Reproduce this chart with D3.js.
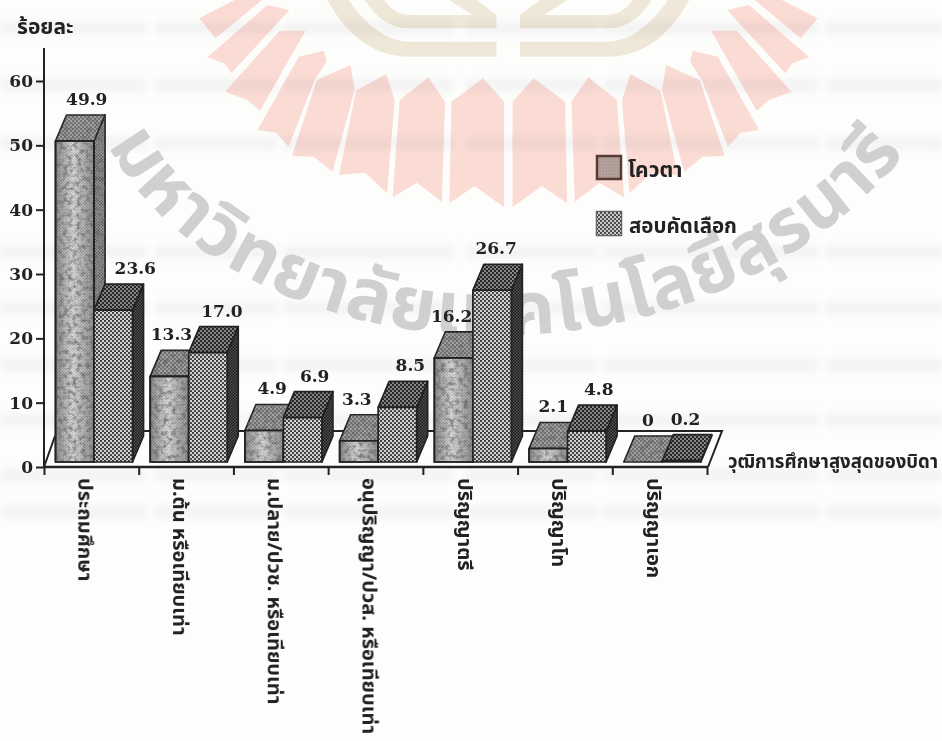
<!DOCTYPE html>
<html lang="th"><head><meta charset="utf-8">
<script src="https://cdn.jsdelivr.net/npm/d3@7"></script>
<style>html,body{margin:0;padding:0;background:#fdfdfc}svg{display:block}</style></head>
<body><svg id="c" width="942" height="741"></svg>
<script>
const categories = ["ประถมศึกษา","ม.ต้น หรือเทียบเท่า","ม.ปลาย/ปวช. หรือเทียบเท่า","อนุปริญญา/ปวส. หรือเทียบเท่า","ปริญญาตรี","ปริญญาโท","ปริญญาเอก"];
const seriesNames = ["โควตา","สอบคัดเลือก"];
const quotaValues = [49.9,13.3,4.9,3.3,16.2,2.1,0];
const examValues = [23.6,17.0,6.9,8.5,26.7,4.8,0.2];
const yTicks = [0,10,20,30,40,50,60];
const quotaLabels = ["49.9","13.3","4.9","3.3","16.2","2.1","0"];
const examLabels = ["23.6","17.0","6.9","8.5","26.7","4.8","0.2"];
const yTitle = "ร้อยละ";
const xTitle = "วุฒิการศึกษาสูงสุดของบิดา";
const watermark = "มหาวิทยาลัยเทคโนโลยีสุรนารี";

const thai = '"Noto Sans Thai","Noto Serif Thai","Noto Sans","DejaVu Sans",sans-serif';
const serif = '"DejaVu Serif","Liberation Serif",serif';
const svg = d3.select("#c");
const defs = svg.append("defs");

function dots(id, bg, fg, size, r){
  const p = defs.append("pattern").attr("id",id).attr("width",size).attr("height",size).attr("patternUnits","userSpaceOnUse");
  p.append("rect").attr("width",size).attr("height",size).attr("fill",bg);
  p.append("circle").attr("cx",size/4).attr("cy",size/4).attr("r",r).attr("fill",fg);
  p.append("circle").attr("cx",size*3/4).attr("cy",size*3/4).attr("r",r).attr("fill",fg);
}
dots("q-top","#a4a4a2","#5c5c5c",4,0.9);
dots("q-side","#9a9a9a","#505050",3,0.7);
dots("e-front","#d2d2d0","#333333",4,1.1);
dots("e-top","#8a8a8a","#222222",4,1.15);
dots("e-side","#555555","#1a1a1a",3,0.9);
dots("q-spk","rgba(0,0,0,0)","rgba(25,25,25,.32)",3,0.6);
dots("l-hatch","#c9c9c9","#3e3e3e",4,1.1);
const g1 = defs.append("linearGradient").attr("id","q-grad");
[[0,"#8f8f8f"],[.45,"#dcdcda"],[1,"#929292"]].forEach(s=>g1.append("stop").attr("offset",s[0]).attr("stop-color",s[1]));
const f = defs.append("filter").attr("id","soft").attr("x",0).attr("y",0).attr("width",1).attr("height",1);
f.append("feGaussianBlur").attr("stdDeviation",0.45);
const f2 = defs.append("filter").attr("id","ghost").attr("filterUnits","userSpaceOnUse").attr("x",0).attr("y",0).attr("width",942).attr("height",741);
f2.append("feGaussianBlur").attr("stdDeviation",3.2);
const m = defs.append("filter").attr("id","mottle").attr("x",0).attr("y",0).attr("width",1).attr("height",1);
m.append("feTurbulence").attr("type","fractalNoise").attr("baseFrequency",.22).attr("numOctaves",3).attr("seed",7).attr("result","n");
m.append("feColorMatrix").attr("in","n").attr("type","matrix").attr("values","0 0 0 0 .12  0 0 0 0 .12  0 0 0 0 .12  2 0 0 0 -.85").attr("result","c");
m.append("feComposite").attr("in","c").attr("in2","SourceAlpha").attr("operator","in");

// watermark rays + emblem
const bg = svg.append("g");
const wx = x => 180 + x/2.376, wy = y => y/3, mirror = x => 1560 - x;
const rays = [
 [[645,305],[720,235],[770,305],[770,622],[700,558],[640,610]],
 [[522,300],[590,232],[630,305],[622,605],[563,548],[505,592]],
 [[418,272],[490,222],[510,300],[492,580],[440,518],[378,525]],
 [[325,240],[405,195],[415,270],[362,515],[318,470],[266,468]],
 [[282,170],[342,152],[348,185],[320,240],[258,440],[228,398],[184,390]],
 [[237,92],[298,92],[190,332],[160,300],[107,275]],
 [[208,15],[260,30],[122,220],[105,190],[65,172]],
 [[45,55],[130,0],[195,0],[85,115]]
];
[false,true].forEach(mm=>rays.forEach(r=>{
  bg.append("polygon").attr("fill","#fbdcd5")
    .attr("points",r.map(p=>[wx(mm?mirror(p[0]):p[0]),wy(p[1])].join(",")).join(" "));
}));
const band = (mm)=>{const X=x=>wx(mm?mirror(x):x),Y=wy;
 return [
 `M${X(350)},0Q${X(425)},${Y(170)} ${X(545)},${Y(170)}L${X(752)},${Y(170)}L${X(752)},${Y(125)}L${X(545)},${Y(125)}Q${X(470)},${Y(125)} ${X(400)},0Z`,
 `M${X(440)},0Q${X(480)},${Y(85)} ${X(545)},${Y(85)}L${X(752)},${Y(85)}L${X(752)},${Y(45)}L${X(705)},0L${X(640)},0L${X(695)},${Y(45)}L${X(545)},${Y(45)}Q${X(510)},${Y(45)} ${X(485)},0Z`];};
[false,true].forEach(mm=>band(mm).forEach(d=>bg.append("path").attr("d",d).attr("fill","#efe7d8")));

// faint show-through from the reverse of the scanned page
const ghostRows = [28,85,143,252,308,365,420,475,512];
bg.selectAll("line.g").data(ghostRows).join("line").attr("class","g")
  .attr("x1",0).attr("x2",942).attr("y1",d=>d).attr("y2",d=>d)
  .attr("stroke","#e8e8ec").attr("stroke-width",13).attr("opacity",.42)
  .attr("stroke-dasharray","146 9 122 7 170 12 131 6 215 8")
  .attr("style","mix-blend-mode:multiply").attr("filter","url(#ghost)");

// curved grey watermark text
defs.append("path").attr("id","arc").attr("d","M108,145C230,375 690,420 908,150");
bg.append("text").attr("font-family",thai).attr("font-size",74).attr("font-weight",700).attr("fill","#d0d0d0")
  .append("textPath").attr("href","#arc").attr("startOffset","0%").attr("textLength",915).attr("lengthAdjust","spacing").text(watermark);

// chart
const g = svg.append("g").attr("filter","url(#soft)");
const y = d3.scaleLinear().domain([0,60]).range([467,81]);
const x = d3.scaleBand().domain(categories).range([44,707]);
const xs = d3.scaleBand().domain(seriesNames).range([11.5,88.5]);
const baseY = 462, dx = 11, dy = -26;
const ink = "#222";

// floor
g.append("path").attr("fill","none").attr("stroke",ink).attr("stroke-width",2)
 .attr("d",`M44,${y(0)}L55,436M100,431H722L708,${y(0)}`);

// axes
const yAxis = d3.axisLeft(y).tickValues(yTicks).tickSize(8).tickPadding(3).tickFormat(d3.format("d"));
const ya = g.append("g").attr("transform","translate(44,0)").call(yAxis);
ya.select(".domain").attr("d",`M0,${y(0)}V48`).attr("stroke",ink).attr("stroke-width",2);
ya.selectAll(".tick line").attr("stroke",ink).attr("stroke-width",2);
ya.selectAll("text").attr("font-family",serif).attr("font-weight",700).attr("font-size",17).attr("fill",ink);
const edges = d3.scaleLinear().domain([0,categories.length]).range(x.range());
const xa = g.append("g").attr("transform",`translate(0,${y(0)})`).call(d3.axisBottom(edges).ticks(7).tickSize(8).tickFormat(""));
xa.selectAll(".tick text").remove();
xa.select(".domain").attr("d",`M44,0H708`).attr("stroke",ink).attr("stroke-width",2.4);
xa.selectAll(".tick line").attr("stroke",ink).attr("stroke-width",2);

// bars
const rows = categories.map((c,i)=>({c,i,q:quotaValues[i],e:examValues[i]}));
function bar(sel,X,W,v,kind){
  const h = y(0)-y(v), T = baseY-h, R = X+W, t = sel.append("g").attr("stroke",ink).attr("stroke-width",1.7).attr("stroke-linejoin","round");
  const side = `M${R},${T}L${R+dx},${T+dy}V${baseY+dy}L${R},${baseY}Z`, top = `M${X},${T}L${X+dx},${T+dy}H${R+dx}L${R},${T}Z`;
  t.append("path").attr("d",side).attr("fill",`url(#${kind}-side)`);
  t.append("path").attr("d",top).attr("fill",`url(#${kind}-top)`);
  if(kind==="q"){
    t.append("path").attr("d",top).attr("fill","#000").attr("stroke","none").attr("filter","url(#mottle)");
    t.append("path").attr("d",side).attr("fill","#000").attr("stroke","none").attr("filter","url(#mottle)");
  }
  if(h>0){
    if(kind==="q"){
      t.append("rect").attr("x",X).attr("y",T).attr("width",W).attr("height",h).attr("fill","url(#q-grad)");
      t.append("rect").attr("x",X).attr("y",T).attr("width",W).attr("height",h).attr("fill","url(#q-spk)").attr("stroke","none");
      t.append("rect").attr("x",X).attr("y",T).attr("width",W).attr("height",h).attr("fill","#000").attr("stroke","none").attr("filter","url(#mottle)");
      t.append("rect").attr("x",X).attr("y",T).attr("width",W).attr("height",h).attr("fill","none");
    } else t.append("rect").attr("x",X).attr("y",T).attr("width",W).attr("height",h).attr("fill","url(#e-front)");
  }
}
rows.forEach(r=>{
  const gx = x(r.c);
  bar(g,gx+xs(seriesNames[0]),xs.bandwidth(),r.q,"q");
  bar(g,gx+xs(seriesNames[1]),xs.bandwidth(),r.e,"e");
});

// value labels
const quotaShift = [12,2,8,-2,-2,5,5], examShift = [22,14,12,13,4,12,4];
const lab = (cat,s,v,txt,shift)=>g.append("text").attr("x",x(cat)+xs(s)+xs.bandwidth()/2+shift)
   .attr("y",baseY-(y(0)-y(v))-36).attr("text-anchor","middle").attr("font-family",serif)
   .attr("font-weight",700).attr("font-size",17).attr("fill",ink).text(txt);
rows.forEach(r=>{
  lab(r.c,seriesNames[0],r.q,quotaLabels[r.i],quotaShift[r.i]);
  lab(r.c,seriesNames[1],r.e,examLabels[r.i],examShift[r.i]);
});

// category labels
g.selectAll("text.cat").data(categories).join("text").attr("class","cat")
 .attr("transform",(d)=>`translate(${x(d)+x.bandwidth()/2-7},478) rotate(90)`)
 .attr("dominant-baseline","middle").attr("font-family",thai).attr("font-weight",700).attr("font-size",20).attr("fill",ink).text(d=>d);

// titles
g.append("text").attr("x",17).attr("y",34).attr("font-family",thai).attr("font-weight",700).attr("font-size",21).attr("fill",ink).text(yTitle);
g.append("text").attr("x",728).attr("y",468).attr("font-family",thai).attr("font-weight",700).attr("font-size",18.6).attr("fill",ink).text(xTitle);

// legend
const leg = g.append("g");
[[156,"#5c3a34","#b9a7a2","url(#q-spk)"],[212,"#666","#c9c9c9","url(#l-hatch)"]].forEach((l,i)=>{
  leg.append("rect").attr("x",597).attr("y",l[0]).attr("width",24).attr("height",23).attr("fill",l[2]).attr("stroke",l[1]).attr("stroke-width",2.5);
  leg.append("rect").attr("x",597).attr("y",l[0]).attr("width",24).attr("height",23).attr("fill",l[3]);
  leg.append("text").attr("x",i?629:628).attr("y",l[0]+21).attr("font-family",thai).attr("font-weight",700).attr("font-size",i?20.5:21).attr("fill",ink).text(seriesNames[i]);
});
</script></body></html>
